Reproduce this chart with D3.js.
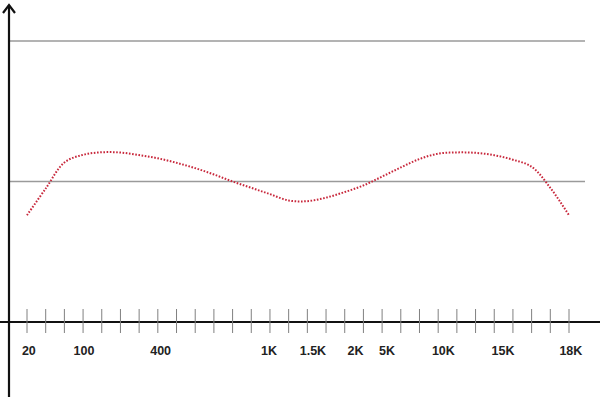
<!DOCTYPE html>
<html><head><meta charset="utf-8">
<script src="https://cdn.jsdelivr.net/npm/d3@7"></script>
<style>body{margin:0;background:#fff}svg{display:block}</style>
</head><body><svg id="c" width="600" height="400"></svg>
<script>
// data
const tickCount = 30;
const tickLabels = ["20","100","400","1K","1.5K","2K","5K","10K","15K","18K"];
const labelPos = [0.1, 3.05, 7.15, 12.95, 15.3, 17.58, 19.26, 22.28, 25.47, 29.1];
const curveIdx = [0,1,2,3,4,5,6,7,8,9,10,11,12,13,14,15,16,17,18,19,20,21,22,23,24,25,26,27,28,29];
const curveVal = [-2.4,-0.5,1.35,1.9,2.08,2.06,1.88,1.65,1.33,0.95,0.5,0,-0.45,-0.9,-1.35,-1.4,-1.15,-0.75,-0.28,0.35,1.0,1.6,1.98,2.07,2.04,1.87,1.55,1.05,-0.45,-2.4];
const gridVals = [10, 0];

const svg = d3.select("#c");
const x = d3.scaleLinear().domain([0, tickCount-1]).range([27, 569]);
const y = d3.scaleLinear().domain([-10, 10]).range([322, 41]);

// gridlines
svg.selectAll("line.grid").data(gridVals).join("line")
  .attr("x1", 10).attr("x2", 585)
  .attr("y1", d=>y(d)).attr("y2", d=>y(d))
  .attr("stroke", "#9a9a9a").attr("stroke-width", 1.5);

// x axis line
svg.append("line").attr("x1",0).attr("x2",600).attr("y1",y(-10)).attr("y2",y(-10))
  .attr("stroke","#111").attr("stroke-width",2);

// ticks
svg.selectAll("line.tk").data(d3.range(tickCount)).join("line")
  .attr("x1", d=>x(d)).attr("x2", d=>x(d))
  .attr("y1", y(-10)-13).attr("y2", y(-10)+11)
  .attr("stroke", "#808080").attr("stroke-width", 1);

// labels
svg.selectAll("text.lb").data(tickLabels).join("text")
  .attr("x", (d,i)=>x(labelPos[i])).attr("y", 355)
  .attr("text-anchor","middle")
  .attr("font-family","Liberation Sans, Arial, sans-serif")
  .attr("font-weight","bold").attr("font-size",12.5).attr("fill","#222")
  .text(d=>d);

// y axis with arrow
svg.append("line").attr("x1",9).attr("x2",9).attr("y1",397).attr("y2",5)
  .attr("stroke","#111").attr("stroke-width",2.2);
svg.append("path").attr("d","M3,13 L9,5 L15,13").attr("fill","none")
  .attr("stroke","#111").attr("stroke-width",2.2);

// curve
const line = d3.line().x((d,i)=>x(curveIdx[i])).y(d=>y(d)).curve(d3.curveCatmullRom);
svg.append("path").datum(curveVal).attr("d", line)
  .attr("fill","none").attr("stroke","#c8283c").attr("stroke-width",2)
  .attr("stroke-dasharray","1.6,1.6");
</script></body></html>
